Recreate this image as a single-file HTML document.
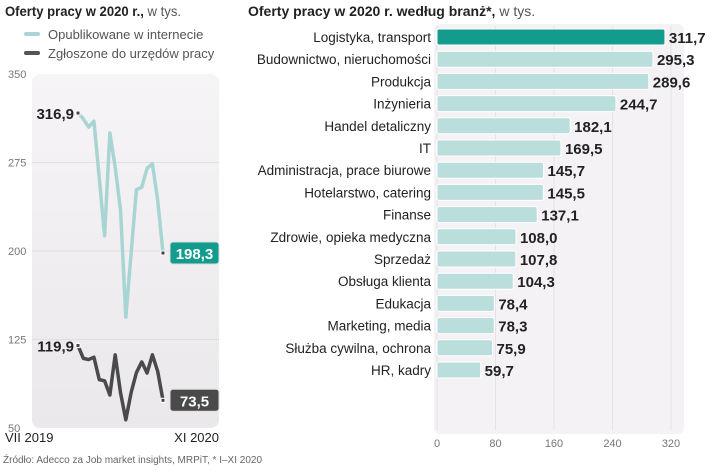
<!DOCTYPE html>
<html><head><meta charset="utf-8">
<style>
body{margin:0;background:#fff;font-family:"Liberation Sans",sans-serif;}
svg text{font-family:"Liberation Sans",sans-serif;}
</style></head><body>
<svg id="c" width="720" height="467" viewBox="0 0 720 467" xmlns="http://www.w3.org/2000/svg">
<defs><linearGradient id="g" x1="0" y1="0" x2="0" y2="1"><stop offset="0" stop-color="#f6f4f6"/><stop offset="1" stop-color="#ebe8ec"/></linearGradient></defs>
<text x="5" y="16" font-size="14" font-weight="bold" fill="#222" textLength="176" lengthAdjust="spacingAndGlyphs">Oferty pracy w 2020 r.,<tspan font-weight="normal" fill="#555"> w tys.</tspan></text>
<line x1="26" y1="34" x2="38" y2="34" stroke="#a8d5d3" stroke-width="4" stroke-linecap="round"/>
<text x="48" y="39" font-size="13" fill="#555">Opublikowane w internecie</text>
<line x1="26" y1="53" x2="38" y2="53" stroke="#555" stroke-width="4" stroke-linecap="round"/>
<text x="48" y="58" font-size="13" fill="#555">Zgłoszone do urzędów pracy</text>
<rect x="32" y="74" width="187" height="354" rx="8" fill="url(#g)"/>
<g id="lg"></g>
<text x="5" y="442" font-size="13" fill="#222">VII 2019</text>
<text x="219" y="442" font-size="13" fill="#222" text-anchor="end">XI 2020</text>
<text x="3" y="463" font-size="10" fill="#666">Źródło: Adecco za Job market insights, MRPiT, * I–XI 2020</text>
<text x="248" y="16" font-size="14" font-weight="bold" fill="#222">Oferty pracy w 2020 r. według branż*,<tspan font-weight="normal" fill="#555"> w tys.</tspan></text>
<rect x="434" y="24" width="250" height="410" rx="6" fill="#f4f2f5"/>
<g id="rg"></g>
</svg>
<script>
const months=["VII 2019","VIII","IX","X","XI","XII","I 2020","II","III","IV","V","VI","VII","VIII","IX","X","XI 2020"];
const internet=[316.9,312,305,310,262,213,300,271,235,144,198,252,254,270,274,243,198.3];
const offices=[119.9,109,108,110,91,90,78,112,80,57,80,97,106,96.6,112,98,73.5];
const yTicks=[50,125,200,275,350];
const cats=["Logistyka, transport","Budownictwo, nieruchomości","Produkcja","Inżynieria","Handel detaliczny","IT","Administracja, prace biurowe","Hotelarstwo, catering","Finanse","Zdrowie, opieka medyczna","Sprzedaż","Obsługa klienta","Edukacja","Marketing, media","Służba cywilna, ochrona","HR, kadry"];
const vals=[311.7,295.3,289.6,244.7,182.1,169.5,145.7,145.5,137.1,108.0,107.8,104.3,78.4,78.3,75.9,59.7];
const xTicks=[0,80,160,240,320];

const NS="http://www.w3.org/2000/svg";
function mk(p,t,a){const e=document.createElementNS(NS,t);for(const k in a)e.setAttribute(k,a[k]);p.appendChild(e);return e;}
const fmt=v=>v.toFixed(1).replace('.',',');
const lg=document.getElementById('lg');
const ly=v=>428-(v-50)*354/300;
const lx=i=>78+i*(85/(months.length-1));
yTicks.forEach(t=>{
 if(t>50&&t<350){const l=mk(lg,'line',{x1:32,x2:219,y1:ly(t),y2:ly(t),stroke:'#e2dfe3','stroke-width':1});
 
 }
 const tx=mk(lg,'text',{x:8,y:ly(t)+4,'font-size':11,fill:'#777'});tx.textContent=t;
 
 
});
function series(arr,col,name){
 const p=mk(lg,'polyline',{points:arr.map((v,i)=>lx(i)+','+ly(v)).join(' '),fill:'none',stroke:col,'stroke-width':3.5,'stroke-linejoin':'round'});
 
 
 [0,arr.length-1].forEach(i=>{const r=mk(lg,'rect',{x:lx(i)-2,y:ly(arr[i])-2,width:4,height:4,fill:'#444',stroke:'#fff','stroke-width':1});
 
 });
}
series(internet,'#a8d5d3','line-internet');
series(offices,'#4a4a4a','line-offices');
function startLbl(v){const t=mk(lg,'text',{x:74,y:ly(v)+6,'font-size':15,'font-weight':'bold',fill:'#222','text-anchor':'end'});t.textContent=fmt(v);
 
 }
startLbl(internet[0]);startLbl(offices[0]);
function endLbl(v,col){const y=ly(v);const r=mk(lg,'rect',{x:170,y:y-11,width:49,height:22,rx:3,fill:col,stroke:'#ddd','stroke-width':1});
 
 
 const t=mk(lg,'text',{x:194.5,y:y+6,'font-size':15,'font-weight':'bold',fill:'#fff','text-anchor':'middle'});t.textContent=fmt(v);
 
 }
endLbl(internet[internet.length-1],'#139c8e');endLbl(offices[offices.length-1],'#4a4a4a');
const rg=document.getElementById('rg');
const bx=v=>437+v*(234/320);
xTicks.forEach(t=>{
 const l=mk(rg,'line',{x1:bx(t),x2:bx(t),y1:26,y2:430,stroke:'#e6e3e7','stroke-width':1});
 
 
 const tx=mk(rg,'text',{x:bx(t),y:447,'font-size':11,fill:'#777','text-anchor':'middle'});tx.textContent=t;
 
 
});
cats.forEach((c,i)=>{
 const yc=37+i*22.2;
 const lab=mk(rg,'text',{x:431,y:yc+5,'font-size':13.5,fill:'#222','text-anchor':'end'});lab.textContent=c;
 
 
 const b=mk(rg,'rect',{x:437,y:yc-8,width:bx(vals[i])-437,height:16,rx:2,fill:i==0?'#139c8e':'#b9dedc',stroke:'#fff','stroke-width':1});
 
 
 const v=mk(rg,'text',{x:bx(vals[i])+4,y:yc+6,'font-size':15,'font-weight':'bold',fill:'#222'});v.textContent=fmt(vals[i]);
 
 
});
</script>
</body></html>
